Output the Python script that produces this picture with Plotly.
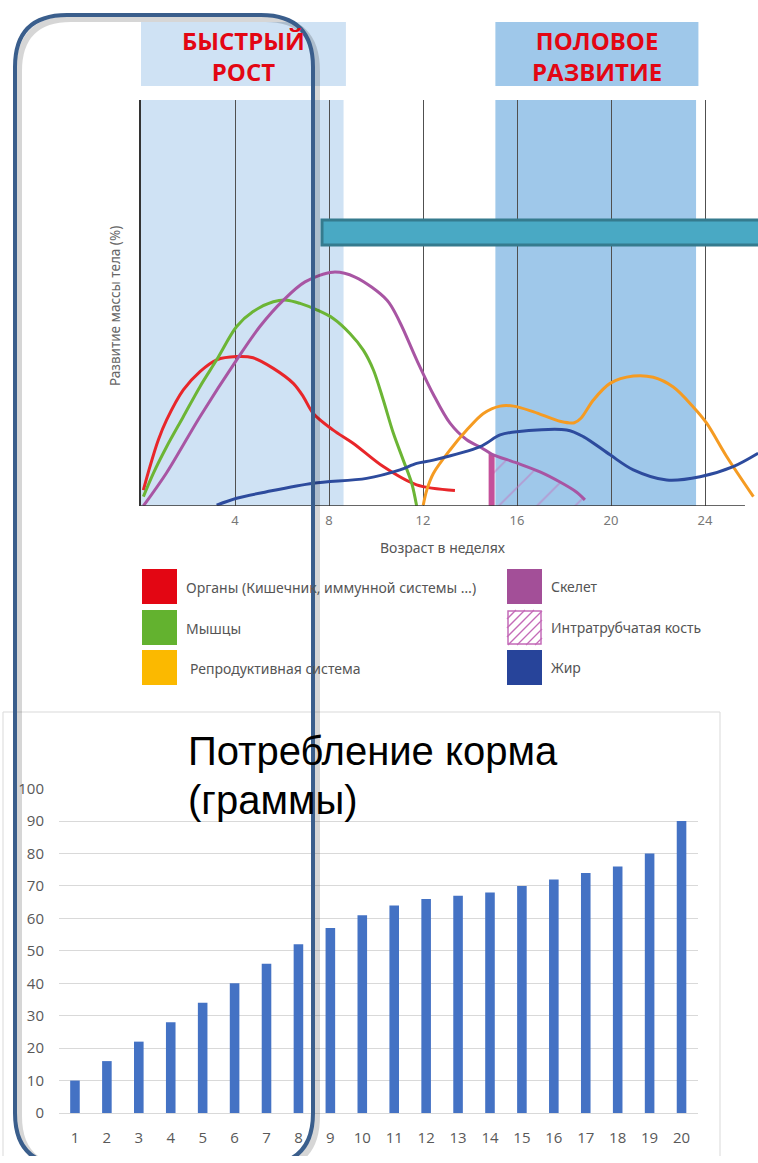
import plotly.graph_objects as go

# Figure canvas in page pixels; kept a few pixels shorter than the page so the
# document never overflows the window.
W, H = 758, 1156

# ---------------- body-mass development curves (age in weeks, %) ----------------
organs_w = [0.10, 0.38, 0.74, 1.09, 1.80, 2.51, 3.22, 4.07, 4.77, 5.63, 6.48, 6.91,
            7.33, 8.18, 9.04, 10.31, 11.73, 13.36]
organs_v = [3.9, 9.7, 16.3, 21.2, 28.6, 33.1, 36.0, 36.8, 36.5, 33.9, 30.2, 26.9,
            22.8, 18.7, 15.4, 9.7, 5.2, 3.8]

muscle_w = [0.10, 0.52, 1.09, 1.80, 2.51, 3.22, 4.07, 4.77, 5.63, 6.20, 6.77, 7.48,
            8.18, 8.89, 9.46, 9.89, 10.31, 10.74, 11.16, 11.52, 11.73]
muscle_v = [2.3, 8.0, 14.6, 22.0, 29.4, 36.0, 44.2, 47.9, 50.3, 50.7, 49.9, 48.3,
            46.2, 42.5, 38.4, 33.5, 26.1, 17.9, 11.3, 5.6, 0.0]

skeleton_w = [0.10, 1.09, 2.51, 4.07, 5.06, 6.06, 6.98, 8.17, 9.11, 10.47, 11.02,
              11.73, 12.43, 13.15, 13.86, 14.50, 14.92, 15.99, 16.98, 17.83, 18.54, 18.89]
skeleton_v = [0.0, 8.2, 22.0, 36.0, 44.2, 50.7, 55.2, 57.6, 56.4, 50.7, 45.2,
              36.0, 27.6, 20.4, 16.3, 14.3, 12.8, 10.6, 8.4, 5.9, 3.4, 1.5]

# intramedullary bone: hatched area under the skeleton curve from this week on
medullary_start = 14.92

repro_w = [12.01, 12.16, 12.44, 13.15, 13.86, 14.57, 15.28, 15.85, 16.71, 17.87, 18.44,
           18.72, 19.25, 19.96, 20.95, 21.80, 22.65, 23.50, 24.07, 24.92, 26.06]
repro_v = [0.2, 3.9, 8.0, 13.8, 18.7, 22.8, 24.6, 24.6, 23.2, 20.8, 20.5,
           21.6, 26.1, 30.2, 32.0, 31.7, 29.3, 24.4, 20.4, 12.2, 2.3]

fat_w = [3.22, 4.07, 5.35, 7.33, 9.60, 11.02, 11.73, 12.44, 14.43, 15.28, 15.99, 18.11,
         18.82, 19.96, 20.95, 22.37, 23.79, 25.20, 26.26]
fat_v = [0.2, 1.9, 3.5, 5.6, 6.8, 8.9, 10.5, 11.3, 14.6, 17.5, 18.3, 18.7,
         17.1, 12.6, 8.9, 6.4, 7.2, 9.7, 13.0]

week_ticks = [0, 4, 8, 12, 16, 20, 24]
week_labels = ["", "4", "8", "12", "16", "20", "24"]

# growth phases (weeks)
phase_rapid = (0.0, 8.62)
phase_sexual = (15.08, 23.62)

# ---------------- feed intake ----------------
feed_weeks = list(range(1, 21))
feed_grams = [10, 16, 22, 28, 34, 40, 46, 52, 57, 61, 64, 66, 67, 68, 70, 72, 74, 76, 80, 90]

# legend entries: (label, colour)
legend_left = [("Органы (Кишечник, иммунной системы …)", "#e30613"),
               ("Мышцы", "#63b22f"),
               ("Репродуктивная система", "#fbb900")]
legend_right = [("Скелет", "#a34f98"),
                ("Интратрубчатая кость", None),
                ("Жир", "#27449a")]

PX_PER_WEEK = 23.5
WEEK0_PX = 141


def fx(p):
    return p / W


def fy(p):
    return 1 - p / H


fig = go.Figure()

# hatched intramedullary bone area
med_w = [w for w in skeleton_w if w >= medullary_start]
med_v = [v for w, v in zip(skeleton_w, skeleton_v) if w >= medullary_start]
fig.add_trace(go.Scatter(
    x=[med_w[0]] + med_w, y=[0] + med_v, mode="none", fill="tozeroy",
    fillcolor="rgba(0,0,0,0)",
    fillpattern=dict(shape="/", fgcolor="#c56fbb", bgcolor="rgba(0,0,0,0)",
                     size=27, solidity=0.07),
    hoverinfo="skip", xaxis="x", yaxis="y"))
fig.add_trace(go.Scatter(
    x=[med_w[0], med_w[0]], y=[0, med_v[0]], mode="lines",
    line=dict(color="#c4509a", width=6), hoverinfo="skip", xaxis="x", yaxis="y"))

curves = [
    (organs_w, organs_v, "#e8262a"),
    (muscle_w, muscle_v, "#6cb535"),
    (skeleton_w, skeleton_v, "#a855a3"),
    (repro_w, repro_v, "#f59b22"),
    (fat_w, fat_v, "#2d4b9d"),
]
for xs, ys, col in curves:
    fig.add_trace(go.Scatter(x=xs, y=ys, mode="lines",
                             line=dict(color=col, width=3, shape="spline", smoothing=0.9),
                             hoverinfo="skip", xaxis="x", yaxis="y"))

# feed intake bars
fig.add_trace(go.Bar(x=feed_weeks, y=feed_grams, width=0.3,
                     marker=dict(color="#4472c4", line=dict(width=0)),
                     xaxis="x2", yaxis="y2", hoverinfo="skip"))

shapes = []
# phase bands and their header boxes
for (a, b), col in [(phase_rapid, "#cfe2f4"), (phase_sexual, "#9fc8ea")]:
    shapes.append(dict(type="rect", xref="x", yref="y", x0=a, x1=b, y0=0, y1=100,
                       fillcolor=col, line=dict(width=0), layer="below"))
    shapes.append(dict(type="rect", xref="x", yref="paper", x0=a, x1=b + 0.1,
                       y0=fy(86), y1=fy(22), fillcolor=col, line=dict(width=0),
                       layer="below"))
# x baseline of the development chart
shapes.append(dict(type="line", xref="x", yref="y", x0=0, x1=25.7, y0=0, y1=0,
                   line=dict(color="#333333", width=1.6), layer="above"))
# teal banner
shapes.append(dict(type="rect", xref="paper", yref="paper", x0=fx(322), x1=fx(770),
                   y0=fy(245), y1=fy(220), fillcolor="#49a9c4",
                   line=dict(color="#357b8e", width=3), layer="above"))
# frame of the feed chart
shapes.append(dict(type="rect", xref="paper", yref="paper", x0=fx(3), x1=fx(720),
                   y0=fy(1170), y1=fy(712), line=dict(color="#d9d9d9", width=1),
                   fillcolor="rgba(0,0,0,0)", layer="below"))

# legend swatches
sq = 35
rows = [569, 610, 650]
for (label, col), top in zip(legend_left, rows):
    shapes.append(dict(type="rect", xref="paper", yref="paper", x0=fx(142), x1=fx(142 + sq),
                       y0=fy(top + sq), y1=fy(top), fillcolor=col, line=dict(width=0)))
for (label, col), top in zip(legend_right, rows):
    if col is None:
        x0, y0 = 507, top
        shapes.append(dict(type="rect", xref="paper", yref="paper", x0=fx(x0 + 1),
                           x1=fx(x0 + sq - 1), y0=fy(y0 + sq - 1), y1=fy(y0 + 1),
                           fillcolor="white", line=dict(color="#c46bb8", width=1.5)))
        step = 9
        c = x0 + y0 + step
        while c < x0 + y0 + 2 * sq:
            pts = []
            for xx in (x0, x0 + sq):
                yy = c - xx
                if y0 <= yy <= y0 + sq:
                    pts.append((xx, yy))
            for yy in (y0, y0 + sq):
                xx = c - yy
                if x0 < xx < x0 + sq:
                    pts.append((xx, yy))
            if len(pts) >= 2:
                (ax, ay), (bx, by) = pts[0], pts[1]
                shapes.append(dict(type="line", xref="paper", yref="paper",
                                   x0=fx(ax), y0=fy(ay), x1=fx(bx), y1=fy(by),
                                   line=dict(color="#c46bb8", width=1.3)))
            c += step
    else:
        shapes.append(dict(type="rect", xref="paper", yref="paper", x0=fx(507), x1=fx(507 + sq),
                           y0=fy(top + sq), y1=fy(top), fillcolor=col, line=dict(width=0)))


# rounded outline with a soft shadow
def rounded_path(x0, y0, x1, y1, r):
    rx, ry = r / W, r / H
    X0, X1, Y0, Y1 = fx(x0), fx(x1), fy(y0), fy(y1)
    return (f"M {X0 + rx},{Y0} L {X1 - rx},{Y0} Q {X1},{Y0} {X1},{Y0 - ry} "
            f"L {X1},{Y1 + ry} Q {X1},{Y1} {X1 - rx},{Y1} L {X0 + rx},{Y1} "
            f"Q {X0},{Y1} {X0},{Y1 + ry} L {X0},{Y0 - ry} Q {X0},{Y0} {X0 + rx},{Y0} Z")


shapes.append(dict(type="path", xref="paper", yref="paper",
                   path=rounded_path(19, 19, 317, 1168, 52),
                   line=dict(color="rgba(0,0,0,0.16)", width=6), layer="above"))
shapes.append(dict(type="path", xref="paper", yref="paper",
                   path=rounded_path(15, 15, 313, 1165, 52),
                   line=dict(color="#3a5e8c", width=4), layer="above"))

annotations = []
hdr_font = dict(family="Open Sans", size=24, color="#e30613")
for text, xc in [("<b>БЫСТРЫЙ<br>РОСТ</b>", 4.35), ("<b>ПОЛОВОЕ<br>РАЗВИТИЕ</b>", 19.4)]:
    annotations.append(dict(x=xc, xref="x", y=fy(56), yref="paper", text=text,
                            showarrow=False, font=hdr_font, xanchor="center",
                            yanchor="middle", align="center"))
annotations.append(dict(x=fx(115), y=fy(306), xref="paper", yref="paper",
                        text="Развитие массы тела (%)", textangle=-90, showarrow=False,
                        xanchor="center", yanchor="middle",
                        font=dict(family="Noto Sans", size=13.5, color="#666666")))
annotations.append(dict(x=fx(443), y=fy(548), xref="paper", yref="paper",
                        text="Возраст в неделях", showarrow=False,
                        xanchor="center", yanchor="middle",
                        font=dict(family="Noto Sans", size=14, color="#555555")))
leg_font = dict(family="Noto Sans", size=14, color="#555555")
for (label, col), top in zip(legend_left, rows):
    annotations.append(dict(x=fx(184 if top < 650 else 188), y=fy(top + 18), xref="paper",
                            yref="paper", text=label, showarrow=False, xanchor="left",
                            yanchor="middle", font=leg_font))
for (label, col), top in zip(legend_right, rows):
    annotations.append(dict(x=fx(549), y=fy(top + 17), xref="paper", yref="paper",
                            text=label, showarrow=False, xanchor="left",
                            yanchor="middle", font=leg_font))
title_font = dict(family="Liberation Sans", size=40, color="#000000")
annotations.append(dict(x=fx(186), y=fy(751), xref="paper", yref="paper",
                        text="Потребление корма", showarrow=False, xanchor="left",
                        yanchor="middle", font=title_font))
annotations.append(dict(x=fx(186), y=fy(800), xref="paper", yref="paper",
                        text="(граммы)", showarrow=False, xanchor="left",
                        yanchor="middle", font=title_font))

fig.update_layout(
    width=W, height=H, margin=dict(l=0, r=0, t=0, b=0, autoexpand=False),
    paper_bgcolor="white", plot_bgcolor="rgba(0,0,0,0)",
    showlegend=False, bargap=0.7,
    shapes=shapes, annotations=annotations,
    xaxis=dict(domain=[fx(WEEK0_PX), 1.0],
               range=[0, (W - WEEK0_PX) / PX_PER_WEEK], anchor="y",
               tickvals=week_ticks, ticktext=week_labels, showgrid=True,
               gridcolor="#505050", gridwidth=1.4, zeroline=False, showline=False,
               ticks="", ticklabelstandoff=5,
               tickfont=dict(family="Noto Sans", size=13, color="#777777")),
    yaxis=dict(domain=[fy(506), fy(100)], range=[0, 100], anchor="x", showgrid=False,
               showticklabels=False, zeroline=False, showline=True,
               linecolor="#333333", linewidth=1.6),
    xaxis2=dict(domain=[fx(59), fx(697.5)], range=[0.5, 20.5], anchor="y2",
                tickvals=feed_weeks, showgrid=False, zeroline=False, showline=False,
                ticks="", ticklabelstandoff=14,
                tickfont=dict(family="Open Sans", size=15, color="#595959")),
    yaxis2=dict(domain=[fy(1113), fy(788)], range=[0, 100.2], anchor="x2", dtick=10,
                showgrid=True, gridcolor="#d9d9d9", gridwidth=1, zeroline=True,
                zerolinecolor="#d9d9d9", zerolinewidth=1, ticks="",
                ticklabelstandoff=14,
                tickfont=dict(family="Open Sans", size=15, color="#595959")),
)

fig.write_html("out.html")
